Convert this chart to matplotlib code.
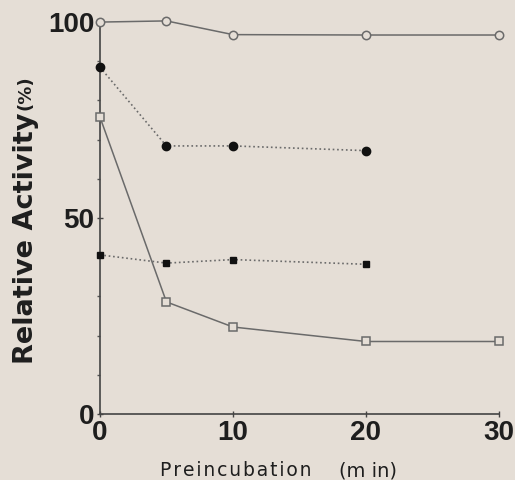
import matplotlib
matplotlib.use('Agg')
import matplotlib.pyplot as plt

# data
t_open_circle = [0, 5, 10, 20, 30]
open_circle = [100, 100.3, 96.8, 96.7, 96.7]

t_filled_circle = [0, 5, 10, 20]
filled_circle = [88.5, 68.4, 68.4, 67.2]

t_filled_square = [0, 5, 10, 20]
filled_square = [40.6, 38.5, 39.4, 38.2]

t_open_square = [0, 5, 10, 20, 30]
open_square = [75.8, 28.6, 22.2, 18.5, 18.5]

xticks = [0, 10, 20, 30]
yticks = [0, 50, 100]

bg = '#e5ded6'
ink = '#1e1e1e'
gray = '#6a6a6a'

plt.rcParams['font.family'] = ['Liberation Sans', 'DejaVu Sans']

fig = plt.figure(figsize=(5.15, 4.8), dpi=100, facecolor=bg)
ax = fig.add_axes([0.194, 0.1375, 0.775, 0.8165])
ax.set_facecolor(bg)

ax.plot(t_open_circle, open_circle, '-', color=gray, lw=1.1, marker='o', ms=6,
        mfc=bg, mec=gray, mew=1.1, clip_on=False, zorder=3)
ax.plot(t_filled_circle, filled_circle, ':', color=gray, lw=1.2, marker='o', ms=6,
        mfc='#111111', mec='#111111', clip_on=False, zorder=3)
ax.plot(t_filled_square, filled_square, ':', color=gray, lw=1.2, marker='s', ms=5,
        mfc='#111111', mec='#111111', clip_on=False, zorder=3)
ax.plot(t_open_square, open_square, '-', color=gray, lw=1.1, marker='s', ms=5.5,
        mfc=bg, mec=gray, mew=1.1, clip_on=False, zorder=3)

ax.set_xlim(0, 30)
ax.set_ylim(0, 100)
for s in ['top', 'right']:
    ax.spines[s].set_visible(False)
for s in ['left', 'bottom']:
    ax.spines[s].set_color('#444444')
    ax.spines[s].set_linewidth(1.2)

ax.set_xticks(xticks)
ax.set_yticks(yticks)
ax.set_yticks(range(0, 101, 10), minor=True)
ax.tick_params(axis='both', which='major', direction='inout', length=4, width=1,
               color='#444444', labelsize=20, labelcolor=ink, pad=2)
ax.tick_params(axis='y', which='minor', direction='out', length=2, width=1, color='#555555')
for lab in ax.get_xticklabels() + ax.get_yticklabels():
    lab.set_fontweight('bold')

hs = '\u200a'
fig.text(0.05, 0.503, 'Relative Activity', rotation=90, ha='center', va='center',
         fontsize=19.5, fontweight='bold', color=ink, family='DejaVu Sans')
fig.text(0.049, 0.806, '(%)', rotation=90, ha='center', va='center',
         fontsize=13, fontweight='bold', color=ink, family='DejaVu Sans')
fig.text(0.457, 0.008, hs.join('Preincubation'), ha='center', va='baseline',
         fontsize=13.5, color=ink, family='DejaVu Sans')
fig.text(0.714, 0.008, '(m in)', ha='center', va='baseline',
         fontsize=14, color=ink, family='DejaVu Sans')

fig.savefig('out.png', dpi=100, facecolor=bg)
